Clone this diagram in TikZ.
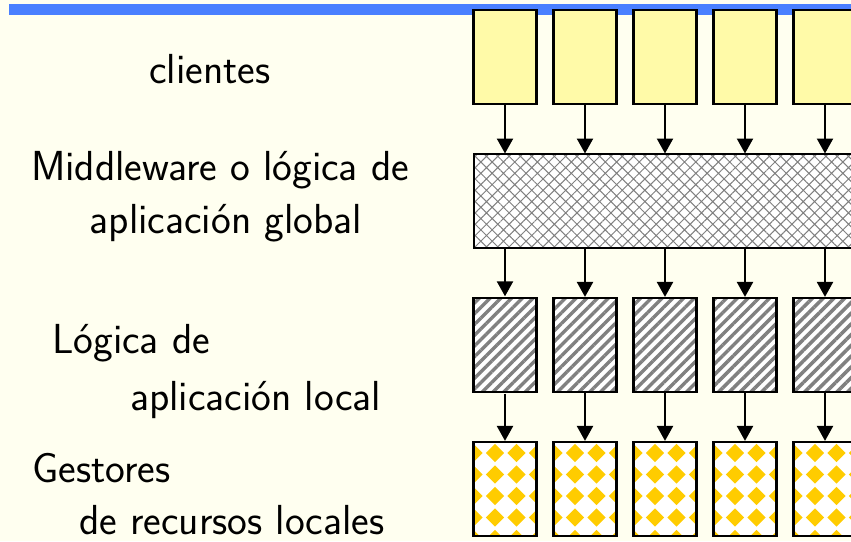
\documentclass[tikz,border=0pt]{standalone}
\usetikzlibrary{arrows.meta,patterns.meta,positioning}

\definecolor{paper}{RGB}{255,255,240}
\definecolor{barblue}{RGB}{74,128,255}
\definecolor{clientyellow}{RGB}{255,250,168}
\definecolor{gold}{RGB}{255,204,0}

\begin{document}
\begin{tikzpicture}[
    x=1pt, y=-1pt,
    box/.style={rectangle, draw, line width=2.2pt, minimum width=63pt, minimum height=94pt, inner sep=0pt},
    cliente/.style={box, fill=clientyellow},
    logica/.style={box, preaction={fill=white}, pattern={Lines[angle=45, distance=7.6pt, line width=3.4pt]}, pattern color=gray},
    gestor/.style={box, fill=white, path picture={
        \foreach \dx in {0,...,3} \foreach \dy in {0,...,4}
          \fill[gold] (path picture bounding box.north west) ++(21.5*\dx,11+21.5*\dy)
            +(0,-9.2) -- +(9.2,0) -- +(0,9.2) -- +(-9.2,0) -- cycle;
      }},
    middleware/.style={box, minimum width=383pt, preaction={fill=white}, pattern={Hatch[angle=45, distance=8pt, line width=1pt]}, pattern color=gray},
    txt/.style={font=\sffamily\fontsize{42}{44}\selectfont, inner sep=0pt},
    arrow/.style={-{Triangle[length=15pt, width=16pt]}, line width=2.3pt}
]
\useasboundingbox (0,0) rectangle (851,541);
\clip (0,0) rectangle (851,541);
\fill[paper] (0,0) rectangle (851,541);
\fill[barblue] (9,4) rectangle (851,14.7);

% columns
\node[middleware] (mw) at (665.5,201) {};
\foreach \i/\x in {1/505,2/585,3/665,4/745,5/825} {
  \node[cliente] (c\i) at (\x,57) {};
  \node[logica] (l\i) at (\x,345) {};
  \node[gestor] (g\i) at (\x,489) {};
  \draw[arrow] (c\i) -- (c\i |- mw.north);
  \draw[arrow] (l\i |- mw.south) -- (l\i);
  \draw[arrow] (l\i) -- (g\i);
}

% layer names
\node[txt, anchor=base] (tc) at (210,83) {clientes};
\node[txt, anchor=base] (tm1) at (220,180) {Middleware o lógica de};
\node[txt, anchor=base] (tm2) at (226,233) {aplicación global};
\node[txt, anchor=base west] (tl1) at (52,353) {Lógica de};
\node[txt, anchor=base west] (tl2) at (130,410) {aplicación local};
\node[txt, anchor=base west] (tg1) at (32,482) {Gestores};
\node[txt, anchor=base west] (tg2) at (79,534) {de recursos locales};
\end{tikzpicture}
\end{document}
